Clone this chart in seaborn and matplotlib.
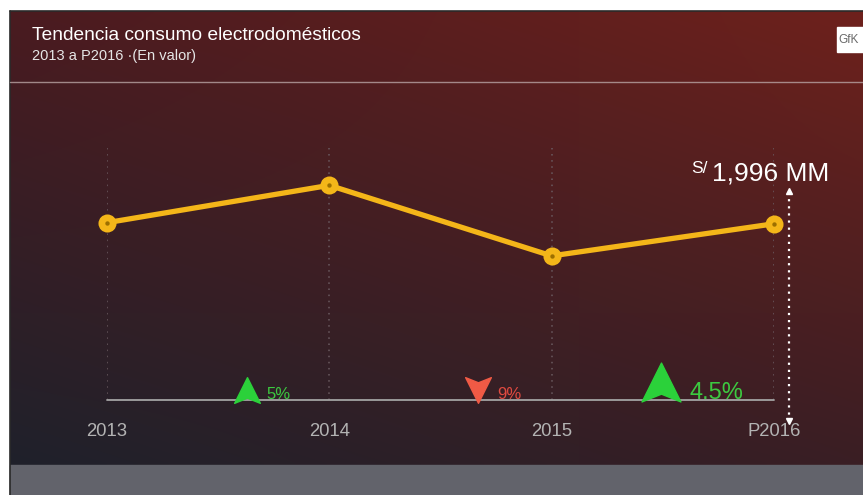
import numpy as np
import pandas as pd
import matplotlib
matplotlib.use("Agg")
import matplotlib.pyplot as plt
import seaborn as sns
from matplotlib.path import Path
from matplotlib.patches import Rectangle

# --- data
years = ["2013", "2014", "2015", "P2016"]
values = [1999, 2099, 1910, 1996]          # S/ MM (P2016 = 1,996)
changes = ["5%", "9%", "4.5%"]             # year-on-year change labels
change_up = [True, False, True]
change_x = [0.63, 1.67, 2.49]              # where each change badge sits

TITLE = "Tendencia consumo electrodomésticos"
SUBTITLE = "2013 a P2016 ·(En valor)"
TOTAL_LABEL = "1,996 MM"

YELLOW = "#F4B619"
GREEN = "#2BD13A"
GREEN_TXT = "#3CC940"
RED = "#F05A45"
RED_TXT = "#E04A40"

sns.set_style("white")
plt.rcParams["font.family"] = ["Liberation Sans", "DejaVu Sans"]

W, H = 863, 495
fig = plt.figure(figsize=(W / 100, H / 100), dpi=100)

# background canvas in pixel coordinates
bg = fig.add_axes([0, 0, 1, 1])
bg.set_xlim(0, W)
bg.set_ylim(H, 0)
bg.axis("off")


def hex2rgb(h):
    return np.array(matplotlib.colors.to_rgb(h))


tl, tr = hex2rgb("#4a1b20"), hex2rgb("#6e211c")
bl, br = hex2rgb("#1f212b"), hex2rgb("#3a1e24")
u = np.linspace(0, 1, 200)[None, :, None]
v = np.linspace(0, 1, 120)[:, None, None]
grad = (1 - v) * ((1 - u) * tl + u * tr) + v * ((1 - u) * bl + u * br)
bg.imshow(grad, extent=(10, W, 465, 11), aspect="auto", interpolation="bilinear", zorder=0)
bg.add_patch(Rectangle((10, 465), W - 10, 30, color="#62636b", zorder=1))
bg.plot([10, 10], [11, 495], color="#2a2a2a", lw=1.2, zorder=2)
bg.plot([10, W], [11, 11], color="#2a2a2a", lw=1.2, zorder=2)

# header
bg.text(32, 40, TITLE, color="white", fontsize=13.8, va="baseline", zorder=3)
bg.text(32, 60, SUBTITLE, color="#e6e6e6", fontsize=10.5, va="baseline", zorder=3)
bg.plot([10, W], [82, 82], color="#b9a4a4", lw=1, alpha=0.8, zorder=3)
bg.add_patch(Rectangle((837, 27), 26, 25, color="white", zorder=3))
bg.text(849, 40, "GfK", color="#6a6a6a", fontsize=8.5, ha="center", va="center", zorder=4)

# --- main chart axes: baseline at y=400 px, top at y=148 px
x_left, x_right, y_top, y_base = 107, 774, 148, 400
ax = fig.add_axes([x_left / W, (H - y_base) / H, (x_right - x_left) / W, (y_base - y_top) / H])
ax.patch.set_alpha(0)
df = pd.DataFrame({"pos": range(len(years)), "valor": values})

ax.set_xlim(0, 3)
ax.set_ylim(1524, 2199)
ax.grid(axis="x", color="#6a5a60", linestyle=(0, (1, 3)), lw=1.1)
ax.grid(axis="y", visible=False)
for s in ax.spines.values():
    s.set_visible(False)
ax.axhline(1524, color="#a3a3a3", lw=1.3, clip_on=False)

sns.lineplot(data=df, x="pos", y="valor", ax=ax, color=YELLOW, lw=3.8,
             marker="o", markersize=13, markeredgewidth=0, clip_on=False, zorder=5)
ax.scatter(df["pos"], df["valor"], s=10, color="#9c6f00", zorder=6, clip_on=False, lw=0)

ax.set_xticks(df["pos"])
ax.set_xticklabels(years, color="#b3b3b3", fontsize=13.3)
ax.tick_params(axis="x", length=0, pad=16.5)
ax.set_yticks([])
ax.set_xlabel("")
ax.set_ylabel("")

# change badges (notched arrowheads)
up_arrow = Path([(0, 1), (-1, -1), (0, -0.6), (1, -1), (0, 1)],
                [Path.MOVETO, Path.LINETO, Path.LINETO, Path.LINETO, Path.CLOSEPOLY])
down_arrow = Path([(0, -1), (-1, 1), (0, 0.6), (1, 1), (0, -1)],
                  [Path.MOVETO, Path.LINETO, Path.LINETO, Path.LINETO, Path.CLOSEPOLY])
for i, (lab, up, cx) in enumerate(zip(changes, change_up, change_x)):
    big = i == len(changes) - 1
    size = 28 if big else 18.5
    ymark = 1524 + (18 if big else 10) / 0.376
    ax.plot([cx], [ymark], marker=up_arrow if up else down_arrow, markersize=size,
            color=GREEN if up else RED, lw=0, clip_on=False, zorder=4)
    ax.text(cx + (0.13 if big else 0.085), 1524 + 4, lab,
            color=GREEN_TXT if up else RED_TXT, fontsize=17 if big else 12,
            va="baseline", ha="left", zorder=4)

# total value callout with dotted double arrow
bg.text(708, 173, "S/", color="white", fontsize=12.5, ha="right", va="baseline", zorder=7)
bg.text(712, 181, TOTAL_LABEL, color="white", fontsize=19, ha="left", va="baseline", zorder=7)
bg.plot([789, 789], [192, 420], color="white", lw=1.6, linestyle=(0, (1, 2.2)), zorder=7)
bg.plot([789], [191], marker="^", markersize=4, color="white", zorder=7, lw=0)
bg.plot([789], [421], marker="v", markersize=4, color="white", zorder=7, lw=0)

fig.savefig("out.png", dpi=100)
